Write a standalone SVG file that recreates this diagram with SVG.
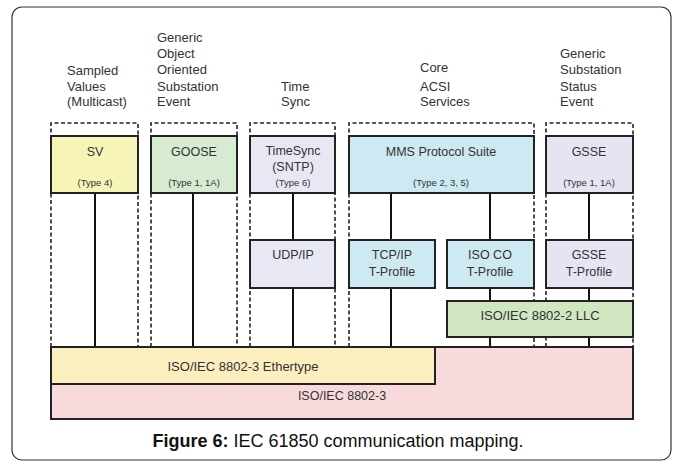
<svg xmlns="http://www.w3.org/2000/svg" width="677" height="468" viewBox="0 0 677 468">
<style>
.lbl{font-family:"Liberation Sans",Arial,sans-serif;font-size:13px;fill:#333}
.bx{stroke:#222;stroke-width:2}
.bt{font-family:"Liberation Sans",Arial,sans-serif;font-size:12.5px;fill:#333;text-anchor:middle}
.ty{font-family:"Liberation Sans",Arial,sans-serif;font-size:9.5px;fill:#333;text-anchor:middle}
.dash{stroke:#222;stroke-width:1.6;stroke-dasharray:4 2.5;fill:none}
.ln{stroke:#111;stroke-width:2;fill:none}
</style>
<rect x="0" y="0" width="677" height="468" fill="#fff"/>
<rect x="12" y="7" width="659" height="453" rx="10" fill="#fff" stroke="#333" stroke-width="1.2"/>

<g id="labels">
<text class="lbl" x="67"><tspan x="67" y="75">Sampled</tspan><tspan x="67" y="91">Values</tspan><tspan x="67" y="106">(Multicast)</tspan></text>
<text class="lbl"><tspan x="157" y="42">Generic</tspan><tspan x="157" y="58">Object</tspan><tspan x="157" y="74">Oriented</tspan><tspan x="157" y="91">Substation</tspan><tspan x="157" y="106">Event</tspan></text>
<text class="lbl"><tspan x="281" y="91">Time</tspan><tspan x="281" y="106">Sync</tspan></text>
<text class="lbl"><tspan x="420" y="72">Core</tspan><tspan x="420" y="91">ACSI</tspan><tspan x="420" y="106">Services</tspan></text>
<text class="lbl"><tspan x="560" y="58">Generic</tspan><tspan x="560" y="74">Substation</tspan><tspan x="560" y="91">Status</tspan><tspan x="560" y="106">Event</tspan></text>
</g>

<g id="connectors">
<path class="dash" d="M51 347V123H138V347M151 347V123H237V347M250 347V123H335V347M349 347V123H534V347M546 347V123H633V347"/>
<path class="ln" d="M95 193V347M193 193V347M293 193V240M293 288V347M391 193V240M391 288V347M490 193V240M490 288V301M490 337V347M589 193V240M589 288V301M589 337V347"/>
</g>

<g id="iso8802-3">
<rect class="bx" x="51" y="347" width="582" height="72" fill="#f8dadd"/>
<text class="bt" x="342" y="400" font-size="13">ISO/IEC 8802-3</text>
</g>
<g id="ethertype">
<rect class="bx" x="51" y="347" width="384" height="37" fill="#fbeebf"/>
<text class="bt" x="243" y="371" style="font-size:13px">ISO/IEC 8802-3 Ethertype</text>
</g>

<g id="sv">
<rect class="bx" x="51" y="136" width="87" height="57" fill="#f7f4b8"/>
<text class="bt" x="95" y="156">SV</text>
<text class="ty" x="95" y="186">(Type 4)</text>
</g>
<g id="goose">
<rect class="bx" x="151" y="136" width="86" height="57" fill="#d6ebd2"/>
<text class="bt" x="194" y="156">GOOSE</text>
<text class="ty" x="194" y="186">(Type 1, 1A)</text>
</g>
<g id="timesync">
<rect class="bx" x="250" y="136" width="85" height="57" fill="#e8e8f4"/>
<text class="bt" x="293" y="155">TimeSync</text>
<text class="bt" x="293" y="171">(SNTP)</text>
<text class="ty" x="293" y="186">(Type 6)</text>
</g>
<g id="mms">
<rect class="bx" x="349" y="136" width="185" height="57" fill="#cde9f1"/>
<text class="bt" x="441" y="156">MMS Protocol Suite</text>
<text class="ty" x="441" y="186">(Type 2, 3, 5)</text>
</g>
<g id="gsse">
<rect class="bx" x="546" y="136" width="87" height="57" fill="#e6e4f3"/>
<text class="bt" x="589" y="156">GSSE</text>
<text class="ty" x="589" y="186">(Type 1, 1A)</text>
</g>

<g id="udpip">
<rect class="bx" x="250" y="240" width="85" height="48" fill="#e8e8f4"/>
<text class="bt" x="293" y="259">UDP/IP</text>
</g>
<g id="tcpip">
<rect class="bx" x="349" y="240" width="86" height="48" fill="#cde9f1"/>
<text class="bt" x="392" y="259">TCP/IP</text>
<text class="bt" x="392" y="276">T-Profile</text>
</g>
<g id="isoco">
<rect class="bx" x="447" y="240" width="87" height="48" fill="#cde9f1"/>
<text class="bt" x="490" y="259">ISO CO</text>
<text class="bt" x="490" y="276">T-Profile</text>
</g>
<g id="gsse-tprofile">
<rect class="bx" x="546" y="240" width="87" height="48" fill="#e6e4f3"/>
<text class="bt" x="589" y="259">GSSE</text>
<text class="bt" x="589" y="276">T-Profile</text>
</g>
<g id="llc">
<rect class="bx" x="447" y="301" width="186" height="36" fill="#d0e7c2"/>
<text class="bt" x="540" y="320" style="font-size:13px">ISO/IEC 8802-2 LLC</text>
</g>

<text x="338" y="447" text-anchor="middle" font-family="'Liberation Sans',Arial,sans-serif" font-size="18" fill="#111"><tspan font-weight="bold">Figure 6:</tspan> IEC 61850 communication mapping.</text>
</svg>
